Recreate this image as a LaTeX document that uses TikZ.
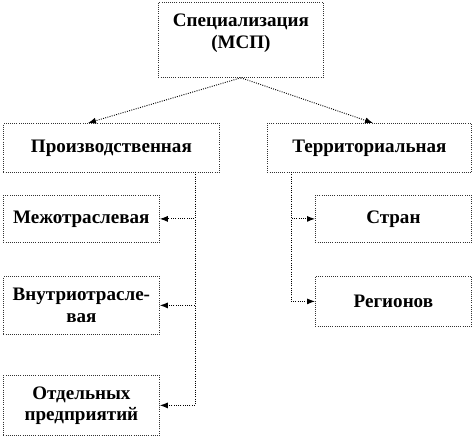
\documentclass[tikz,border=0pt]{standalone}
\usepackage{fontspec}
\setmainfont{Liberation Serif}
\usetikzlibrary{arrows.meta, positioning}

\tikzset{
  box/.style={draw=black!80, densely dotted, line width=0.6pt, anchor=north west,
    font=\fontsize{14.3}{16}\selectfont\bfseries, align=center, inner sep=0pt},
  conn/.style={draw=black, densely dotted, line width=0.7pt},
  arr/.style={conn, -{Latex[length=6pt, width=4.5pt]}}
}

\begin{document}
\begin{tikzpicture}[x=0.75pt, y=-0.75pt]
\useasboundingbox (0,0) rectangle (474,438);
% top
\node[box, minimum width=165*0.75pt, minimum height=75*0.75pt] (spec) at (158,2) {Специализация\\(МСП)\\[-3pt]\mbox{}};
% second level
\node[box, minimum width=216*0.75pt, minimum height=49*0.75pt] (prod) at (3,123) {Производственная};
\node[box, minimum width=204*0.75pt, minimum height=49*0.75pt] (terr) at (267,123) {Территориальная};
% left column
\node[box, minimum width=156*0.75pt, minimum height=47*0.75pt] (mezh) at (3,195) {Межотраслевая};
\node[box, minimum width=156*0.75pt, minimum height=58*0.75pt] (vnut) at (3,276) {Внутриотрасле-\\вая};
\node[box, minimum width=156*0.75pt, minimum height=60*0.75pt] (otd) at (3,375) {Отдельных\\предприятий};
% right column
\node[box, minimum width=156*0.75pt, minimum height=47*0.75pt] (stran) at (315,195) {Стран};
\node[box, minimum width=156*0.75pt, minimum height=50*0.75pt] (reg) at (315,276) {Регионов};

\coordinate (pl) at (195,172);
\coordinate (pr) at (291,172);
\coordinate (ap) at (88,123);
\coordinate (at) at (373,123);

\draw[arr] (spec.south) -- (ap);
\draw[arr] (spec.south) -- (at);

\draw[arr] (pl) |- (mezh.east);
\draw[arr] (pl) |- (vnut.east);
\draw[arr] (pl) |- (otd.east);

\draw[arr] (pr) |- (stran.west);
\draw[arr] (pr) |- (reg.west);
\end{tikzpicture}
\end{document}
